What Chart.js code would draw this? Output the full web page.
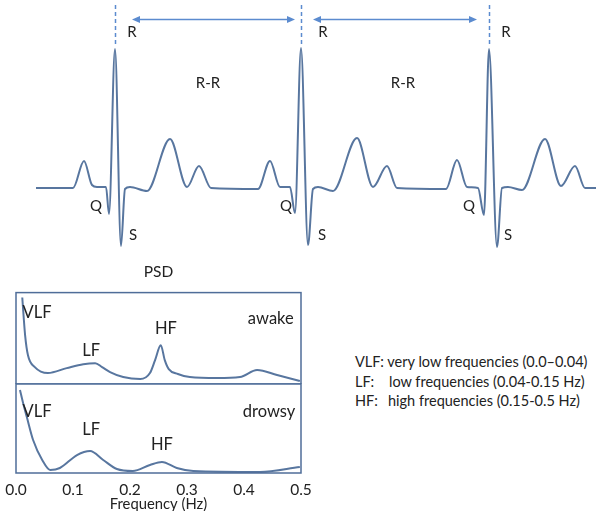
<!DOCTYPE html>
<html><head><meta charset="utf-8">
<script src="https://cdn.jsdelivr.net/npm/chart.js@4/dist/chart.umd.min.js"></script>
<style>
html,body{margin:0;padding:0;background:#fff;}
#wrap{position:relative;width:596px;height:511px;overflow:hidden;background:#fff;}
canvas{position:absolute;}
#ecg{left:36px;top:0;}
#psdA{left:0;top:258px;}
#psdD{left:0;top:380px;}
.leg{position:absolute;font-family:Lato,sans-serif;font-size:14.5px;line-height:20px;color:#222;white-space:pre;}
</style>
</head><body>
<div id="wrap">
<canvas id="ecg" width="560" height="260"></canvas>
<canvas id="psdA" width="316" height="126"></canvas>
<canvas id="psdD" width="316" height="133"></canvas>
<div class="leg" style="left:355px;top:352px">VLF: very low frequencies (0.0–0.04)</div>
<div class="leg" style="left:355px;top:372px">LF:</div>
<div class="leg" style="left:389px;top:372px">low frequencies (0.04-0.15 Hz)</div>
<div class="leg" style="left:355px;top:391px">HF:</div>
<div class="leg" style="left:388px;top:391px">high frequencies (0.15-0.5 Hz)</div>
</div>
<script>
// ---------- DATA ----------
// ECG trace: time (ms) and amplitude (mV)
const ECG_TIME_MS = [0,148,192,224,244,280,292,316,340,356,376,444,536,604,652,700,888,936,976,1016,1036,1060,1088,1108,1128,1188,1284,1348,1404,1444,1640,1684,1724,1768,1792,1812,1844,1864,1888,1944,2036,2100,2156,2196,2240];
const ECG_MV      = [0,0,0.27,0.03,0.01,0.01,-0.26,1.39,-0.58,-0.01,0.01,-0.03,0.49,0.01,0.22,0,-0.01,0.27,0.01,0.01,-0.25,1.40,-0.57,-0.01,0.01,-0.03,0.50,0.01,0.22,0,-0.01,0.28,0.01,0,-0.27,1.39,-0.59,0,0.01,-0.02,0.49,0.02,0.22,0,0];
const R_PEAK_MS = [316, 1060, 1812];
const RR_INTERVALS_MS = [[384,1036],[1108,1764]];

// PSD (normalised power) vs frequency (Hz)
const PSD_FREQ_AWAKE = [0.011,0.016,0.021,0.033,0.056,0.089,0.118,0.139,0.151,0.165,0.188,0.218,0.235,0.244,0.254,0.261,0.268,0.284,0.305,0.353,0.393,0.423,0.458,0.498];
const PSD_AWAKE      = [0.946,0.533,0.315,0.185,0.120,0.174,0.217,0.228,0.185,0.130,0.076,0.054,0.120,0.261,0.424,0.261,0.163,0.109,0.076,0.065,0.076,0.152,0.098,0.033];
const PSD_FREQ_DROWSY = [0.007,0.012,0.019,0.030,0.046,0.060,0.077,0.107,0.130,0.153,0.177,0.205,0.235,0.256,0.282,0.311,0.428,0.498];
const PSD_DROWSY      = [0.933,0.798,0.629,0.371,0.146,0.034,0.056,0.202,0.247,0.146,0.045,0.022,0.090,0.124,0.056,0.022,0.011,0.067];
const FREQ_TICKS = [0.0,0.1,0.2,0.3,0.4,0.5];
const FREQ_TICK_LABELS = ['0.0','0.1','0.2','0.3','0.4','0.5'];

// ---------- STYLE ----------
const LINE_COL = '#58769f';
const GUIDE_COL = '#5b8bcf';
const BOX_COL = '#4f6d99';
const TEXT_COL = '#222222';
const FONT = 'Lato, sans-serif';

const pts = (xs, ys) => xs.map((x, i) => ({x, y: ys[i]}));

const annotPlugin = {
  id: 'annot',
  afterDraw(chart, args, opts) {
    const ctx = chart.ctx, xs = chart.scales.x, ys = chart.scales.y;
    ctx.save();
    (opts.vlines || []).forEach(v => {
      ctx.strokeStyle = GUIDE_COL; ctx.lineWidth = 1.5; ctx.setLineDash([4,3]);
      const px = Math.round(xs.getPixelForValue(v.x)) + 0.5;
      ctx.beginPath(); ctx.moveTo(px, ys.getPixelForValue(v.y0)); ctx.lineTo(px, ys.getPixelForValue(v.y1)); ctx.stroke();
    });
    ctx.setLineDash([]);
    (opts.arrows || []).forEach(a => {
      const x0 = xs.getPixelForValue(a.x0), x1 = xs.getPixelForValue(a.x1), y = Math.round(ys.getPixelForValue(a.y)) + 0.5;
      ctx.strokeStyle = GUIDE_COL; ctx.fillStyle = GUIDE_COL; ctx.lineWidth = 1.5;
      ctx.beginPath(); ctx.moveTo(x0 + 4, y); ctx.lineTo(x1 - 4, y); ctx.stroke();
      [[x0, 1], [x1, -1]].forEach(([x, d]) => {
        ctx.beginPath(); ctx.moveTo(x, y); ctx.lineTo(x + d * 8, y - 3.5); ctx.lineTo(x + d * 8, y + 3.5); ctx.closePath(); ctx.fill();
      });
    });
    (opts.labels || []).forEach(l => {
      ctx.font = (opts.size || 14) + 'px ' + FONT; ctx.fillStyle = TEXT_COL;
      ctx.textAlign = 'center'; ctx.textBaseline = 'middle';
      ctx.fillText(l.text, xs.getPixelForValue(l.x), ys.getPixelForValue(l.y));
    });
    if (opts.box) {
      const a = chart.chartArea;
      ctx.strokeStyle = BOX_COL; ctx.lineWidth = 1.5;
      ctx.strokeRect(a.left, a.top, a.right - a.left, a.bottom - a.top);
    }
    ctx.restore();
  }
};

// ---------- ECG ----------
new Chart(document.getElementById('ecg'), {
  type: 'line',
  data: { datasets: [{ data: pts(ECG_TIME_MS, ECG_MV), borderColor: LINE_COL, borderWidth: 2,
    pointRadius: 0, pointHoverRadius: 0, cubicInterpolationMode: 'monotone', fill: false }] },
  options: {
    responsive: false, animation: false, events: [],
    layout: { padding: 0, autoPadding: false },
    scales: {
      x: { type: 'linear', display: false, min: 0, max: 2240 },
      y: { display: false, min: -0.72, max: 1.88 }
    },
    plugins: {
      legend: { display: false }, tooltip: { enabled: false },
      annot: {
        size: 15,
        vlines: R_PEAK_MS.map(t => ({ x: t, y0: 1.83, y1: 1.42 })),
        arrows: RR_INTERVALS_MS.map(([a, b]) => ({ x0: a, x1: b, y: 1.685 })),
        labels: [
          {text:'R', x:384, y:1.56}, {text:'R', x:1148, y:1.56}, {text:'R', x:1880, y:1.56},
          {text:'R-R', x:688, y:1.05}, {text:'R-R', x:1468, y:1.05},
          {text:'Q', x:240, y:-0.18}, {text:'Q', x:1000, y:-0.18}, {text:'Q', x:1732, y:-0.18},
          {text:'S', x:388, y:-0.47}, {text:'S', x:1144, y:-0.47}, {text:'S', x:1888, y:-0.47}
        ]
      }
    }
  },
  plugins: [annotPlugin]
});

// ---------- PSD awake ----------
new Chart(document.getElementById('psdA'), {
  type: 'line',
  data: { datasets: [{ data: pts(PSD_FREQ_AWAKE, PSD_AWAKE), borderColor: LINE_COL, borderWidth: 2,
    pointRadius: 0, pointHoverRadius: 0, cubicInterpolationMode: 'monotone', fill: false }] },
  options: {
    responsive: false, animation: false, events: [],
    layout: { padding: { left: 16, right: 15, top: 0, bottom: 0 }, autoPadding: false },
    scales: {
      x: { type: 'linear', display: false, min: 0, max: 0.5 },
      y: { display: false, min: 0, max: 1 }
    },
    plugins: {
      legend: { display: false }, tooltip: { enabled: false },
      title: { display: true, text: 'PSD', color: TEXT_COL, font: { family: FONT, size: 15.5, weight: 'normal', lineHeight: 1.2 },
        padding: { top: 5, bottom: 11 } },
      annot: {
        box: true, size: 16.5,
        labels: [
          {text:'VLF', x:0.037, y:0.78}, {text:'LF', x:0.132, y:0.37},
          {text:'HF', x:0.263, y:0.61}, {text:'awake', x:0.447, y:0.72}
        ]
      }
    }
  },
  plugins: [annotPlugin]
});

// ---------- PSD drowsy ----------
new Chart(document.getElementById('psdD'), {
  type: 'line',
  data: { datasets: [{ data: pts(PSD_FREQ_DROWSY, PSD_DROWSY), borderColor: LINE_COL, borderWidth: 2,
    pointRadius: 0, pointHoverRadius: 0, cubicInterpolationMode: 'monotone', fill: false }] },
  options: {
    responsive: false, animation: false, events: [],
    layout: { padding: { left: 16, right: 15, top: 4, bottom: 0 }, autoPadding: false },
    scales: {
      x: { type: 'linear', min: 0, max: 0.5,
        afterBuildTicks: ax => { ax.ticks = FREQ_TICKS.map(v => ({ value: v })); },
        afterFit: ax => { ax.height = 40; ax.paddingLeft = 0; ax.paddingRight = 0; },
        ticks: { autoSkip: false, maxRotation: 0, padding: 8, color: TEXT_COL,
          font: { family: FONT, size: 15.5 },
          callback: (v) => { const i = FREQ_TICKS.indexOf(Math.round(v * 10) / 10); return i >= 0 ? FREQ_TICK_LABELS[i] : ''; } },
        grid: { display: false, drawTicks: false }, border: { display: false },
        title: { display: true, text: 'Frequency (Hz)', color: TEXT_COL, font: { family: FONT, size: 14.8 },
          padding: { top: 0, bottom: 0 } }
      },
      y: { display: false, min: 0, max: 1 }
    },
    plugins: {
      legend: { display: false }, tooltip: { enabled: false },
      annot: {
        box: true, size: 16.5,
        labels: [
          {text:'VLF', x:0.037, y:0.685}, {text:'LF', x:0.132, y:0.483},
          {text:'HF', x:0.256, y:0.315}, {text:'drowsy', x:0.444, y:0.685}
        ]
      }
    }
  },
  plugins: [annotPlugin]
});
</script>
</body></html>
